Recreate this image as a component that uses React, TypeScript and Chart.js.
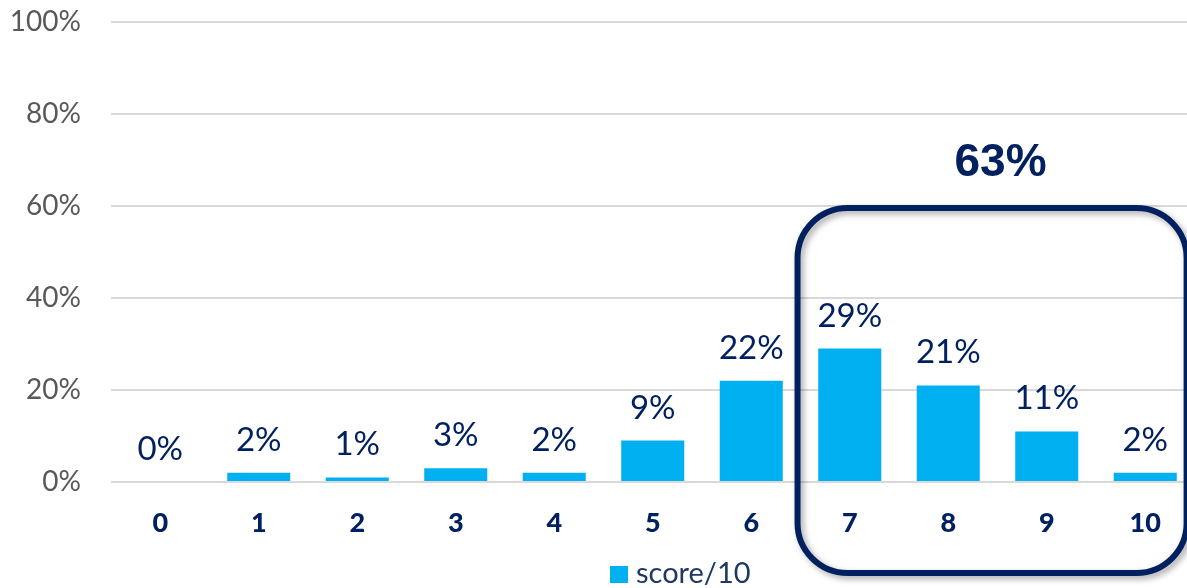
import React, { useEffect, useRef } from 'react';
import { Chart, registerables } from 'chart.js';

Chart.register(...registerables);

const categories = ['0', '1', '2', '3', '4', '5', '6', '7', '8', '9', '10'];
const values = [0, 2, 1, 3, 2, 9, 22, 29, 21, 11, 2];
const yTickValues = [0, 20, 40, 60, 80, 100];
const seriesName = 'score/10';
const highlightFrom = 7;
const highlightTo = 10;
const highlightLabel = '63%';

const NAVY = '#002060';
const BAR = '#00B0F0';
const GRID = '#D9D9D9';
const TICK_GRAY = '#595959';

const labelsPlugin = {
  id: 'valueLabels',
  afterDatasetsDraw(chart: any) {
    const ctx = chart.ctx;
    const meta = chart.getDatasetMeta(0);
    ctx.save();
    ctx.fillStyle = NAVY;
    ctx.font = '33px Lato';
    ctx.textAlign = 'center';
    ctx.textBaseline = 'alphabetic';
    meta.data.forEach((bar: any, i: number) => {
      ctx.fillText(values[i] + '%', bar.x, bar.y - 22);
    });
    ctx.restore();
  },
};

const highlightPlugin = {
  id: 'highlightBox',
  afterDraw(chart: any) {
    const ctx = chart.ctx;
    const xs = chart.scales.x;
    const ys = chart.scales.y;
    const step = xs.getPixelForValue(1) - xs.getPixelForValue(0);
    const left = xs.getPixelForValue(highlightFrom) - 0.53 * step;
    const right = xs.getPixelForValue(highlightTo) + 0.42 * step;
    const top = ys.getPixelForValue(60) + 2;
    const bottom = ys.getPixelForValue(0) + 91;
    const r = 50;
    ctx.save();
    ctx.shadowColor = 'rgba(0,0,0,0.35)';
    ctx.shadowBlur = 6;
    ctx.shadowOffsetX = 3;
    ctx.shadowOffsetY = 3;
    ctx.strokeStyle = NAVY;
    ctx.lineWidth = 6;
    ctx.beginPath();
    ctx.moveTo(left + r, top);
    ctx.lineTo(right - r, top);
    ctx.arcTo(right, top, right, top + r, r);
    ctx.lineTo(right, bottom - r);
    ctx.arcTo(right, bottom, right - r, bottom, r);
    ctx.lineTo(left + r, bottom);
    ctx.arcTo(left, bottom, left, bottom - r, r);
    ctx.lineTo(left, top + r);
    ctx.arcTo(left, top, left + r, top, r);
    ctx.closePath();
    ctx.stroke();
    ctx.restore();

    ctx.save();
    ctx.fillStyle = NAVY;
    ctx.font = 'bold 46px "Liberation Sans"';
    ctx.textAlign = 'center';
    ctx.textBaseline = 'alphabetic';
    const cx = (xs.getPixelForValue(highlightFrom) + xs.getPixelForValue(highlightTo)) / 2 + 3;
    ctx.fillText(highlightLabel, cx, top - 32);
    ctx.restore();

    // legend
    ctx.save();
    const lx = chart.width / 2 + 10;
    const ly = chart.height - 22;
    ctx.fillStyle = BAR;
    ctx.fillRect(lx, ly, 18, 17);
    ctx.fillStyle = '#1F3864';
    ctx.font = '29px Lato';
    ctx.textAlign = 'left';
    ctx.textBaseline = 'alphabetic';
    ctx.fillText(seriesName, lx + 26, ly + 17);
    ctx.restore();
  },
};

export default function App() {
  const ref = useRef<HTMLCanvasElement | null>(null);
  useEffect(() => {
    if (!ref.current) return;
    const chart = new Chart(ref.current, {
      type: 'bar',
      data: {
        labels: categories,
        datasets: [
          {
            label: seriesName,
            data: values,
            backgroundColor: BAR,
            borderWidth: 0,
            barPercentage: 0.8,
            categoryPercentage: 0.8,
          },
        ],
      },
      options: {
        responsive: false,
        animation: false,
        devicePixelRatio: 1,
        layout: { padding: { top: 22, right: 5.5, left: 0, bottom: 0 } },
        plugins: {
          legend: { display: false },
          tooltip: { enabled: false },
        },
        scales: {
          x: {
            grid: { display: false },
            border: { display: false },
            ticks: {
              color: NAVY,
              font: { family: 'Lato', size: 27, weight: '900' },
              padding: 17,
              maxRotation: 0,
            },
            afterFit(scale: any) {
              scale.height = 106;
              scale.paddingLeft = 0;
              scale.paddingRight = 0;
            },
          },
          y: {
            min: 0,
            max: 100,
            afterBuildTicks(scale: any) {
              scale.ticks = yTickValues.map((v) => ({ value: v }));
            },
            grid: { color: GRID, lineWidth: 2, drawTicks: false },
            border: { display: false },
            ticks: {
              color: TICK_GRAY,
              font: { family: 'Lato', size: 28 },
              padding: 30,
              callback: (v: any) => v + '%',
            },
            afterFit(scale: any) {
              scale.width = 111;
              scale.paddingTop = 0;
              scale.paddingBottom = 0;
            },
          },
        },
      },
      plugins: [labelsPlugin, highlightPlugin],
    } as any);
    return () => chart.destroy();
  }, []);
  return (
    <div
      style={{
        position: 'fixed',
        left: 0,
        top: 0,
        width: 1187,
        height: 588,
        overflow: 'hidden',
        background: '#fff',
      }}
    >
      <canvas ref={ref} width={1200} height={588} style={{ width: 1200, height: 588, display: 'block' }} />
    </div>
  );
}
